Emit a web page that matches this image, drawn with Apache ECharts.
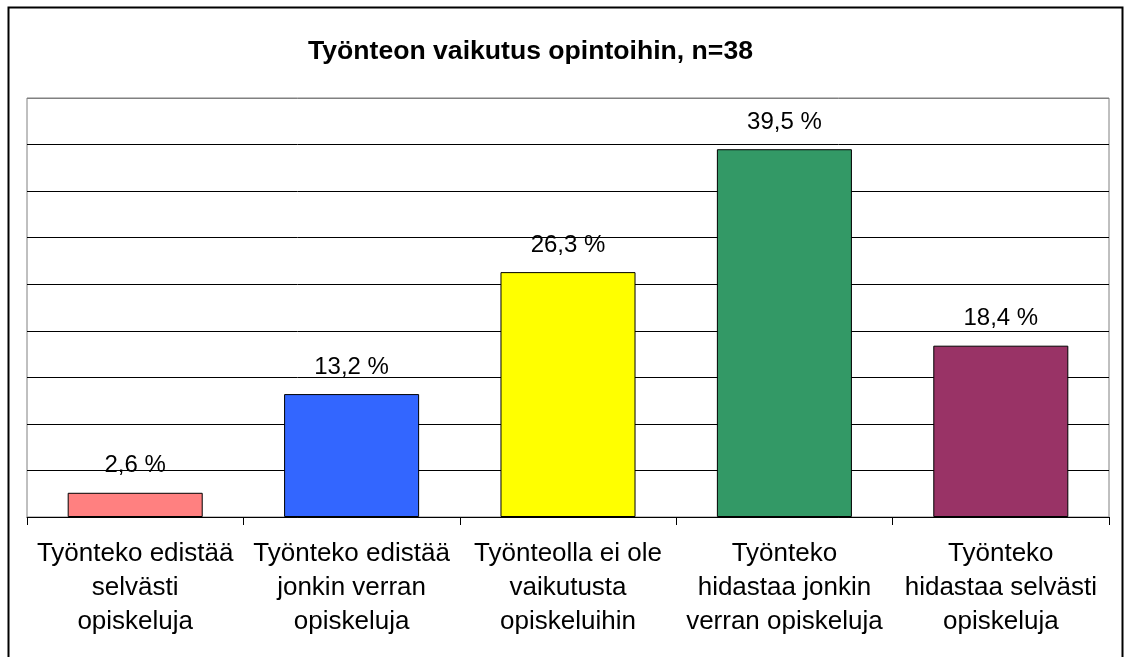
<!DOCTYPE html>
<html>
<head>
<meta charset="utf-8">
<title>Työnteon vaikutus opintoihin</title>
<script src="https://cdn.jsdelivr.net/npm/echarts@6/dist/echarts.min.js"></script>
<style>
  html, body { margin: 0; padding: 0; background: #fff; }
  #chart { width: 1124px; height: 657px; }
</style>
</head>
<body>
<div id="chart"></div>
<script>
const categories = [
  'Työnteko edistää\nselvästi\nopiskeluja',
  'Työnteko edistää\njonkin verran\nopiskeluja',
  'Työnteolla ei ole\nvaikutusta\nopiskeluihin',
  'Työnteko\nhidastaa jonkin\nverran opiskeluja',
  'Työnteko\nhidastaa selvästi\nopiskeluja'
]
const shares = [2.6, 13.2, 26.3, 39.5, 18.4]
const barColors = ['#FF8080', '#3366FF', '#FFFF00', '#339966', '#993366']

const font = '"Liberation Sans", Arial, sans-serif'
const chart = echarts.init(document.getElementById('chart'))

// gridline colours: black, topmost one is the grey plot border
const splitColors = ['#000', '#000', '#000', '#000', '#000', '#000', '#000', '#000', '#000', '#808080']

chart.setOption({
  animation: false,
  title: {
    text: 'Työnteon vaikutus opintoihin, n=38',
    left: 303,
    top: 33,
    textStyle: { fontFamily: font, fontSize: 26.6, fontWeight: 'bold', color: '#000' }
  },
  // outer chart frame, bottom edge falls outside the picture
  graphic: [
    {
      type: 'rect',
      shape: { x: 8.5, y: 7.5, width: 1114, height: 700 },
      style: { fill: 'none', stroke: '#000', lineWidth: 2 },
      silent: true
    }
  ],
  grid: {
    left: 27,
    right: 15,
    top: 98,
    bottom: 140,
    show: true,
    borderColor: '#808080',
    borderWidth: 1
  },
  xAxis: {
    type: 'category',
    data: categories,
    axisLine: { lineStyle: { color: '#000', width: 1 } },
    axisTick: { show: true, length: 8, lineStyle: { color: '#000' } },
    axisLabel: {
      interval: 0,
      margin: 20,
      fontFamily: font,
      fontSize: 26,
      lineHeight: 34,
      color: '#000',
      align: 'center'
    }
  },
  yAxis: {
    type: 'value',
    min: 0,
    max: 45,
    interval: 5,
    axisLabel: { show: false },
    axisLine: { show: false },
    axisTick: { show: false },
    splitLine: { show: true, lineStyle: { color: splitColors, width: 1 } }
  },
  series: [
    {
      type: 'bar',
      data: shares.map((v, i) => ({
        value: v,
        itemStyle: { color: barColors[i] }
      })),
      barCategoryGap: '37.6%',
      itemStyle: { borderColor: '#000', borderWidth: 1 },
      label: {
        show: true,
        position: 'top',
        distance: 15,
        fontFamily: font,
        fontSize: 24,
        color: '#000',
        formatter: (p) => p.value.toFixed(1).replace('.', ',') + ' %'
      }
    }
  ]
})
</script>
</body>
</html>
